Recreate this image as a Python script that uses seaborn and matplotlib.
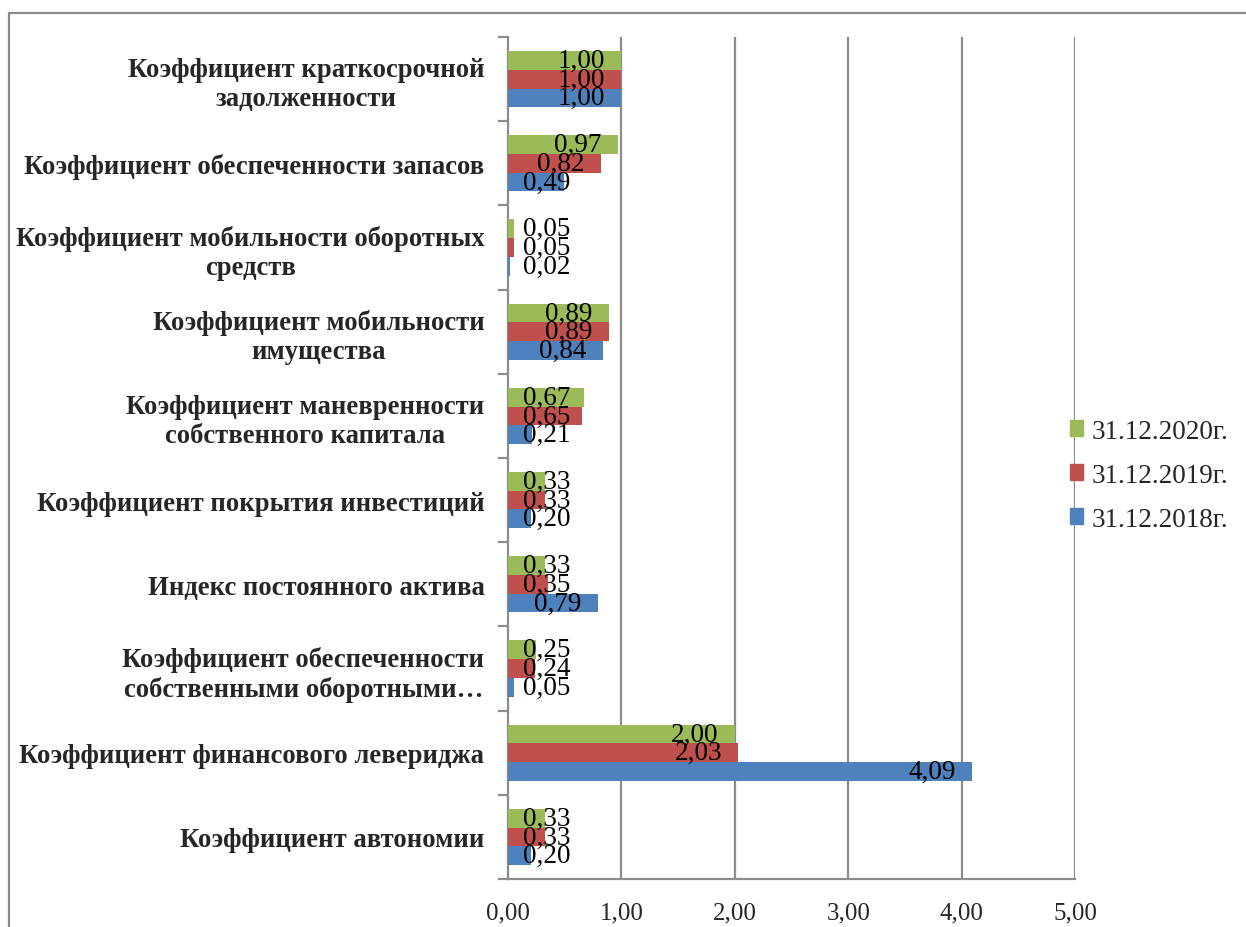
import matplotlib
matplotlib.use("Agg")
import matplotlib.pyplot as plt
import matplotlib.patches as mpatches
from matplotlib.ticker import FixedLocator
import pandas as pd
import seaborn as sns

categories = [
    "Коэффициент краткосрочной\nзадолженности",
    "Коэффициент обеспеченности запасов",
    "Коэффициент мобильности оборотных\nсредств",
    "Коэффициент мобильности\nимущества",
    "Коэффициент маневренности\nсобственного капитала",
    "Коэффициент покрытия инвестиций",
    "Индекс постоянного актива",
    "Коэффициент обеспеченности\nсобственными оборотными…",
    "Коэффициент финансового левериджа",
    "Коэффициент автономии",
]
series = ["31.12.2020г.", "31.12.2019г.", "31.12.2018г."]
values_2020 = [1.00, 0.97, 0.05, 0.89, 0.67, 0.33, 0.33, 0.25, 2.00, 0.33]
values_2019 = [1.00, 0.82, 0.05, 0.89, 0.65, 0.33, 0.35, 0.24, 2.03, 0.33]
values_2018 = [1.00, 0.49, 0.02, 0.84, 0.21, 0.20, 0.79, 0.05, 4.09, 0.20]
x_ticks = [0, 1, 2, 3, 4, 5]

colors = {"31.12.2020г.": "#9BBB59", "31.12.2019г.": "#C0504D", "31.12.2018г.": "#4F81BD"}

rows = []
for name, vals in zip(series, [values_2020, values_2019, values_2018]):
    for cat, v in zip(categories, vals):
        rows.append({"category": cat, "series": name, "value": v})
df = pd.DataFrame(rows)

sns.set_theme(style="white")
plt.rcParams["font.family"] = ["Liberation Serif", "DejaVu Serif"]

fig = plt.figure(figsize=(12.46, 9.28), dpi=100)
ax = fig.add_axes([0.4077, 0.0517, 0.8628 - 0.4077, 0.959 - 0.0517])

sns.barplot(
    data=df, y="category", x="value", hue="series",
    order=categories, hue_order=series, palette=colors,
    orient="h", width=0.667, gap=0, saturation=1, errorbar=None,
    edgecolor="none", linewidth=0, legend=False, ax=ax, zorder=3,
)

ax.set_xlim(0, 5)
ax.set_ylim(len(categories) - 0.5, -0.5)
ax.set_xlabel("")
ax.set_ylabel("")

grid_color = "#8C8C8C"
ax.set_xticks(x_ticks)
ax.set_xticklabels([f"{t:.2f}".replace(".", ",") for t in x_ticks], fontsize=18)
for t in x_ticks[1:]:
    ax.axvline(t, color=grid_color, lw=1.6, zorder=1)

ax.tick_params(axis="x", direction="out", length=7, width=1.6, color=grid_color, pad=9)
ax.tick_params(axis="y", which="major", length=0, pad=17)
ax.yaxis.set_minor_locator(FixedLocator([i - 0.5 for i in range(len(categories) + 1)]))
ax.tick_params(axis="y", which="minor", direction="out", length=7, width=1.6,
               color=grid_color, left=True)
for lbl in ax.get_yticklabels():
    lbl.set_fontsize(19.2)
    lbl.set_fontweight("bold")
    lbl.set_multialignment("center")
    lbl.set_linespacing(1.22)

for side in ["top", "right"]:
    ax.spines[side].set_visible(False)
for side in ["left", "bottom"]:
    ax.spines[side].set_color(grid_color)
    ax.spines[side].set_linewidth(1.6)

# value labels: inside end of the bar, pushed right when the bar is too short
n = len(series)
bar_h = 0.667 / n
for j, (name, vals) in enumerate(zip(series, [values_2020, values_2019, values_2018])):
    for i, v in enumerate(vals):
        yc = i - 0.667 / 2 + bar_h * (j + 0.5)
        xr = max(v - 0.145, 0.55)
        ax.text(xr, yc, f"{v:.2f}".replace(".", ","), ha="right", va="center",
                fontsize=19.5, color="black", zorder=5)

handles = [mpatches.Patch(color=colors[s], label=s) for s in series]
fig.legend(handles=handles, loc="center left", bbox_to_anchor=(0.839, 0.487),
           frameon=False, fontsize=19.5, handlelength=0.5, handleheight=0.5,
           handletextpad=0.3, labelspacing=0.7)

# outer chart frame
fig.add_artist(mpatches.Rectangle((8.5 / 1246, -0.1), 1.2, (928 - 13.5) / 928 + 0.1,
                                  transform=fig.transFigure, fill=False,
                                  edgecolor="#8A8A8A", lw=1.6))

fig.savefig("out.png", dpi=100)
